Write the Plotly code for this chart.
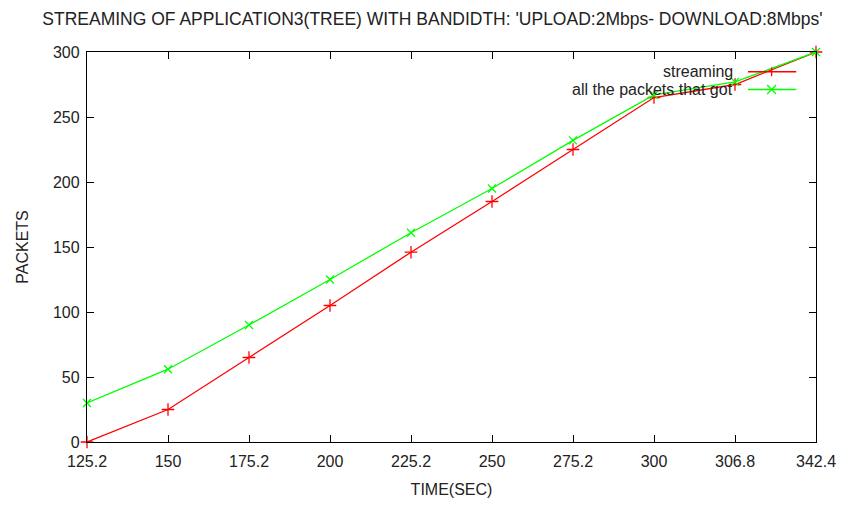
import plotly.graph_objects as go

time_labels = ["125.2", "150", "175.2", "200", "225.2", "250", "275.2", "300", "306.8", "342.4"]
streaming = [0, 25, 65, 105, 146, 185, 225, 265, 275, 300]
all_packets = [30, 56, 90, 125, 161, 195, 232, 267, 277, 300]

fig = go.Figure()
fig.add_trace(go.Scatter(x=time_labels, y=streaming, mode="lines+markers", name="streaming",
                         line=dict(color="#ff0000", width=1.3),
                         marker=dict(symbol="cross-thin", size=9, line=dict(color="#ff0000", width=1.3)),
                         cliponaxis=False))
fig.add_trace(go.Scatter(x=time_labels, y=all_packets, mode="lines+markers", name="all the packets that got",
                         line=dict(color="#00ff00", width=1.3),
                         marker=dict(symbol="x-thin", size=8, line=dict(color="#00ff00", width=1.3)),
                         cliponaxis=False))

# gnuplot-style legend (text right, sample line to the right)
legend_rows = [("streaming", "#ff0000", "cross-thin"), ("all the packets that got", "#00ff00", "x-thin")]
for i, (txt, col, sym) in enumerate(legend_rows):
    ypix = 72 + i * 18
    yp = 1 - (ypix - 52) / 395
    fig.add_annotation(xref="paper", yref="paper", x=(744 - 87) / 739, y=yp, text=txt, showarrow=False,
                       xanchor="right", yanchor="middle", font=dict(size=16, color="#222222"))
    fig.add_shape(type="line", xref="paper", yref="paper", x0=(757 - 87) / 739, x1=(806 - 87) / 739,
                  y0=yp, y1=yp, line=dict(color=col, width=1.3))
    mx = (781 - 87) / 739
    d = 4.5 / 739
    dy = 4.5 / 395
    if sym == "cross-thin":
        fig.add_shape(type="line", xref="paper", yref="paper", x0=mx, x1=mx, y0=yp - dy, y1=yp + dy,
                      line=dict(color=col, width=1.3))
    else:
        fig.add_shape(type="line", xref="paper", yref="paper", x0=mx - d, x1=mx + d, y0=yp - dy, y1=yp + dy,
                      line=dict(color=col, width=1.3))
        fig.add_shape(type="line", xref="paper", yref="paper", x0=mx - d, x1=mx + d, y0=yp + dy, y1=yp - dy,
                      line=dict(color=col, width=1.3))

axis_common = dict(showline=True, linecolor="#000000", linewidth=1.3, mirror="ticks", ticks="inside",
                   ticklen=7, tickcolor="#000000", tickwidth=1.3, showgrid=False, zeroline=False,
                   tickfont=dict(size=16, color="#222222"))

fig.update_layout(
    width=848, height=508,
    margin=dict(l=87, r=22, t=52, b=61),
    paper_bgcolor="white", plot_bgcolor="white",
    font=dict(family="Liberation Sans, Arial, sans-serif", size=16, color="#222222"),
    showlegend=False,
    title=dict(text="STREAMING OF APPLICATION3(TREE) WITH BANDIDTH: 'UPLOAD:2Mbps- DOWNLOAD:8Mbps'",
               x=0.51, xref="container", xanchor="center", y=1 - 19 / 508, yref="container", yanchor="middle",
               font=dict(size=17.5, color="#222222")),
    xaxis=dict(type="category", range=[0, 9], ticklabelstandoff=5,
               title=dict(text="TIME(SEC)", standoff=14, font=dict(size=16)),
               **axis_common),
    yaxis=dict(range=[0, 300], dtick=50, ticklabelstandoff=3,
               title=dict(text="PACKETS", standoff=20, font=dict(size=16)),
               **axis_common),
)

fig.write_html("out.html")
